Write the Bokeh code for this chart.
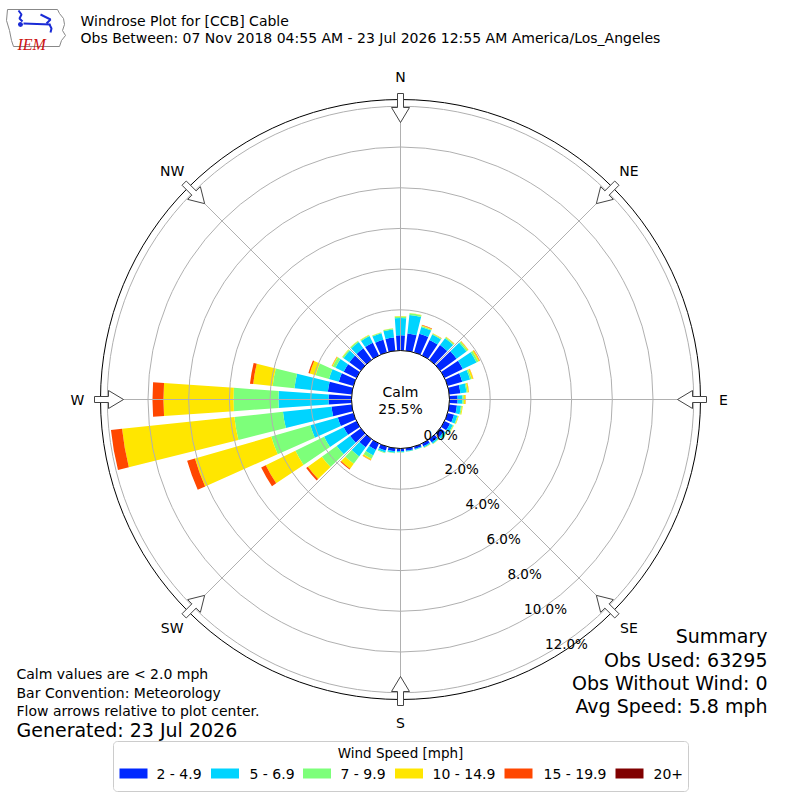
import numpy as np
from bokeh.plotting import figure
from bokeh.models import Range1d, Label, ColumnDataSource
from bokeh.embed import file_html
from bokeh.resources import INLINE

# ---------------- data ----------------
directions = list(range(0, 360, 10))          # bin centres, degrees from north
speed_bins = ["2 - 4.9", "5 - 6.9", "7 - 9.9", "10 - 14.9", "15 - 19.9", "20+"]
colors = ["#0028ff", "#00d4ff", "#7dff7a", "#ffe600", "#ff4700", "#800000"]

# percent of observations per direction, one list per speed bin
s_2_5 = [0.75, 0.85, 0.95, 0.85, 0.90, 1.00, 1.00, 0.75, 0.55, 0.40,
         0.38, 0.33, 0.30, 0.25, 0.20, 0.15, 0.12, 0.12, 0.13, 0.15,
         0.20, 0.35, 0.50, 0.65, 0.70, 0.80, 1.00, 1.13, 1.18, 0.75,
         0.70, 0.70, 0.70, 0.70, 0.65, 0.65]
s_5_7 = [0.85, 0.92, 0.35, 0.30, 0.42, 0.60, 0.75, 0.40, 0.30, 0.24,
         0.20, 0.17, 0.16, 0.12, 0.08, 0.06, 0.04, 0.04, 0.05, 0.07,
         0.10, 0.30, 0.55, 0.82, 1.07, 1.40, 2.40, 2.46, 1.65, 0.50,
         0.45, 0.35, 0.38, 0.36, 0.33, 0.40]
s_7_10 = [0.07, 0.08, 0.05, 0.04, 0.05, 0.08, 0.10, 0.08, 0.06, 0.07,
          0.05, 0.04, 0.04, 0.03, 0.02, 0.02, 0.01, 0.02, 0.02, 0.03,
          0.03, 0.18, 0.45, 0.90, 1.57, 2.00, 2.40, 2.21, 1.08, 0.68,
          0.15, 0.07, 0.06, 0.05, 0.04, 0.05]
s_10_15 = [0.02, 0.02, 0.04, 0.02, 0.03, 0.04, 0.07, 0.08, 0.06, 0.08,
           0.04, 0.03, 0.02, 0.02, 0.01, 0.01, 0.00, 0.00, 0.00, 0.00,
           0.01, 0.08, 0.30, 0.85, 1.62, 3.90, 5.55, 3.44, 0.96, 0.30,
           0.05, 0.02, 0.02, 0.02, 0.01, 0.01]
s_15_20 = [0.00, 0.00, 0.02, 0.01, 0.01, 0.01, 0.02, 0.01, 0.01, 0.01,
           0.00, 0.00, 0.00, 0.00, 0.00, 0.00, 0.00, 0.00, 0.00, 0.00,
           0.00, 0.02, 0.05, 0.10, 0.25, 0.40, 0.55, 0.54, 0.16, 0.07,
           0.01, 0.00, 0.00, 0.00, 0.00, 0.00]
s_20p = [0.0] * 36

calm_pct = 25.5
ring_ticks = [0, 2, 4, 6, 8, 10, 12]
compass_bearings = [0, 45, 90, 135, 180, 225, 270, 315]
compass_labels = ["N", "NE", "E", "SE", "S", "SW", "W", "NW"]

title1 = "Windrose Plot for [CCB] Cable"
title2 = "Obs Between: 07 Nov 2018 04:55 AM - 23 Jul 2026 12:55 AM America/Los_Angeles"
notes = ["Calm values are < 2.0 mph", "Bar Convention: Meteorology",
         "Flow arrows relative to plot center."]
generated = "Generated: 23 Jul 2026"
summary = ["Summary", "Obs Used: 63295", "Obs Without Wind: 0", "Avg Speed: 5.8 mph"]
legend_title = "Wind Speed [mph]"

# ---------------- layout constants ----------------
R0 = 49.0       # pixel radius of the 0 % ring
K = 20.35       # pixels per percent
R_OUT = 300.0   # outer frame circle
FONT = "DejaVu Sans"
TXT = "black"


def X(sx):
    return sx - 400.0


def Y(sy):
    return 399.0 - sy


p = figure(width=800, height=800, x_range=Range1d(-400, 400), y_range=Range1d(-401, 399),
           output_backend="svg", toolbar_location=None, min_border=0,
           x_axis_location=None, y_axis_location=None)
p.grid.visible = False
p.outline_line_color = None
p.background_fill_color = "white"
p.border_fill_color = "white"

# ---------------- bars ----------------
series = [s_2_5, s_5_7, s_7_10, s_10_15, s_15_20, s_20p]
dirs = np.array(directions, dtype=float)
ang = np.radians(90.0 - dirs)
half = np.radians(4.0)
cum = np.zeros(len(directions))
for vals, col in zip(series, colors):
    v = np.array(vals, dtype=float)
    m = v > 0
    src = ColumnDataSource(dict(ir=(R0 + K * cum)[m], orr=(R0 + K * (cum + v))[m],
                                sa=(ang - half)[m], ea=(ang + half)[m]))
    p.annular_wedge(x=0, y=0, inner_radius="ir", outer_radius="orr",
                    start_angle="sa", end_angle="ea", source=src,
                    fill_color=col, line_color=None)
    cum += v

# ---------------- grid ----------------
ring_r = [R0 + K * t for t in ring_ticks[1:]]
p.circle(x=[0] * len(ring_r), y=[0] * len(ring_r), radius=ring_r,
         fill_color=None, line_color="#b0b0b0", line_width=1)
cb = np.radians(np.array(compass_bearings, dtype=float))
p.segment(x0=list(R0 * np.sin(cb)), y0=list(R0 * np.cos(cb)),
          x1=list(R_OUT * np.sin(cb)), y1=list(R_OUT * np.cos(cb)),
          line_color="#b0b0b0", line_width=1)

p.circle(x=[0], y=[0], radius=[R_OUT], fill_color=None, line_color="black", line_width=1)
p.circle(x=[0], y=[0], radius=[R0], fill_color="white", line_color="black", line_width=1)

# ---------------- arrows ----------------
arrow_rw = [(306, -3), (292, -3), (292, -9), (277, 0), (292, 9), (292, 3), (306, 3)]
axs, ays = [], []
for b in cb:
    ux, uy = np.sin(b), np.cos(b)
    vx, vy = np.cos(b), -np.sin(b)
    axs.append([r * ux + w * vx for r, w in arrow_rw])
    ays.append([r * uy + w * vy for r, w in arrow_rw])
p.patches(xs=axs, ys=ays, fill_color="white", line_color="#444444", line_width=1)

# compass labels
for b, lab in zip(cb, compass_labels):
    p.add_layout(Label(x=323 * np.sin(b), y=323 * np.cos(b), text=lab, text_font=FONT,
                       text_font_size="14px", text_align="center", text_baseline="middle",
                       text_color=TXT))

# ring labels
ra = np.radians(-59.0)
for t in ring_ticks:
    r = R0 + K * t
    p.add_layout(Label(x=r * np.cos(ra) + 15, y=r * np.sin(ra) + 7, text=f"{t:.1f}%",
                       text_font=FONT, text_font_size="13.5px", text_align="center",
                       text_baseline="middle", text_color=TXT))

# calm label
p.add_layout(Label(x=0, y=Y(391), text="Calm", text_font=FONT, text_font_size="14px",
                   text_align="center", text_baseline="middle", text_color=TXT))
p.add_layout(Label(x=0, y=Y(408), text=f"{calm_pct:.1f}%", text_font=FONT, text_font_size="14px",
                   text_align="center", text_baseline="middle", text_color=TXT))

# ---------------- titles ----------------
p.add_layout(Label(x=X(80), y=Y(20), text=title1, text_font=FONT, text_font_size="14px",
                   text_baseline="middle", text_color=TXT))
p.add_layout(Label(x=X(80), y=Y(37), text=title2, text_font=FONT, text_font_size="14px",
                   text_baseline="middle", text_color=TXT))

# logo (IEM)
iowa_sx = [7, 57, 59, 63, 64, 62, 65, 61, 59, 13, 11, 9, 6, 7]
iowa_sy = [9, 9, 13, 18, 24, 30, 35, 40, 46, 46, 40, 30, 20, 9]
p.patch(x=[X(v) for v in iowa_sx], y=[Y(v) for v in iowa_sy], fill_color="white",
        line_color="#888888", line_width=1)
p.multi_line(xs=[[X(23), X(50)], [X(40), X(50), X(46)], [X(49), X(51), X(50)], [X(18), X(21), X(19), X(22)]],
             ys=[[Y(23), Y(24)], [Y(14), Y(19), Y(23)], [Y(24), Y(28), Y(32)], [Y(10), Y(14), Y(18), Y(21)]],
             line_color="#1a2bd6", line_width=2)
p.scatter(x=[X(20)], y=[Y(24)], size=5, fill_color="#1a2bd6", line_color=None)
p.add_layout(Label(x=X(17), y=Y(44), text="IEM", text_font="Liberation Serif", text_font_style="italic",
                   text_font_size="16px", text_color="#cc1111", text_baseline="alphabetic"))

# ---------------- notes ----------------
for txt, mid in zip(notes, [673, 692, 710]):
    p.add_layout(Label(x=X(16), y=Y(mid), text=txt, text_font=FONT, text_font_size="14px",
                       text_baseline="middle", text_color=TXT))
p.add_layout(Label(x=X(16), y=Y(729), text=generated, text_font=FONT, text_font_size="19px",
                   text_baseline="middle", text_color=TXT))
for txt, mid in zip(summary, [635, 659, 682, 705]):
    p.add_layout(Label(x=X(767), y=Y(mid), text=txt, text_font=FONT, text_font_size="19px",
                       text_align="right", text_baseline="middle", text_color=TXT))

# ---------------- legend ----------------
bx0, bx1, by0, by1, rad = 113, 688, 741, 791, 4
cx, cy = [], []
for (ccx, ccy, a0) in [(bx1 - rad, by0 + rad, 0), (bx0 + rad, by0 + rad, 90),
                       (bx0 + rad, by1 - rad, 180), (bx1 - rad, by1 - rad, 270)]:
    for a in np.radians(np.linspace(a0, a0 + 90, 7)):
        cx.append(X(ccx + rad * np.cos(a)))
        cy.append(Y(ccy - rad * np.sin(a)))
p.patch(x=cx, y=cy, fill_color="white", line_color="#cccccc", line_width=1)
p.add_layout(Label(x=X(400), y=Y(752), text=legend_title, text_font=FONT, text_font_size="13.5px",
                   text_align="center", text_baseline="middle", text_color=TXT))
patch_cx = [133, 224.5, 316.5, 408.5, 518, 629]
label_x = [156, 249, 340, 432, 543, 653]
p.rect(x=[X(v) for v in patch_cx], y=[Y(773)] * 6, width=28, height=10,
       fill_color=colors, line_color=None)
for lab, lx in zip(speed_bins, label_x):
    p.add_layout(Label(x=X(lx), y=Y(773), text=lab, text_font=FONT, text_font_size="14px",
                       text_baseline="middle", text_color=TXT))

open("out.html", "w").write(file_html(p, INLINE))
